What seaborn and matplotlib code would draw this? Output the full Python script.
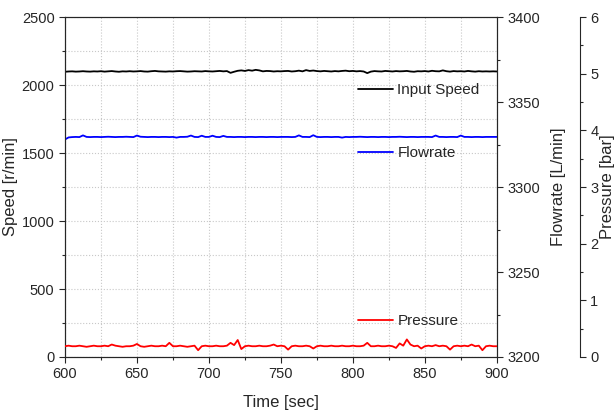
import numpy as np
import pandas as pd
import matplotlib
matplotlib.use("Agg")
import matplotlib.pyplot as plt
from matplotlib.ticker import MultipleLocator
import seaborn as sns

# time axis, one sample every 2.5 s from 600 to 900
time = np.arange(600, 900.1, 2.5)

speed = [
    2098, 2100, 2101, 2099, 2100, 2102, 2100, 2099, 2101, 2100,
    2102, 2099, 2101, 2103, 2100, 2098, 2101, 2100, 2102, 2100,
    2101, 2103, 2100, 2099, 2102, 2104, 2101, 2100, 2099, 2101,
    2100, 2102, 2103, 2101, 2099, 2100, 2102, 2101, 2100, 2103,
    2101, 2100, 2102, 2104, 2101, 2103, 2090, 2098, 2105, 2108,
    2104, 2110, 2106, 2112, 2108, 2101, 2104, 2103, 2100, 2102,
    2101, 2103, 2104, 2100, 2102, 2106, 2101, 2110, 2104, 2107,
    2103, 2101, 2104, 2102, 2100, 2103, 2101, 2104, 2106, 2102,
    2104, 2101, 2103, 2100, 2088, 2099, 2103, 2101, 2100, 2104,
    2102, 2100, 2103, 2101, 2102, 2104, 2100, 2098, 2102, 2101,
    2103, 2100, 2105, 2102, 2101, 2108, 2102, 2099, 2103, 2101,
    2102, 2100, 2104, 2101, 2099, 2102, 2100, 2101, 2100, 2101,
    2100]

flowrate = [
    3328.0, 3329.2, 3329.4, 3329.5, 3329.4, 3330.4, 3329.5, 3329.4, 3329.5, 3329.5,
    3329.4, 3329.5, 3329.6, 3329.5, 3329.4, 3329.5, 3329.5, 3329.6, 3329.5, 3329.4,
    3330.3, 3329.6, 3329.5, 3329.4, 3329.5, 3329.5, 3329.4, 3329.5, 3329.5, 3329.4,
    3329.5, 3329.1, 3329.5, 3329.5, 3329.6, 3330.3, 3329.5, 3329.4, 3330.2, 3329.5,
    3329.5, 3330.2, 3329.5, 3329.4, 3330.1, 3329.5, 3329.5, 3329.4, 3329.5, 3329.5,
    3329.4, 3329.5, 3329.5, 3329.4, 3329.5, 3329.5, 3329.4, 3329.5, 3329.5, 3329.4,
    3329.5, 3329.5, 3329.5, 3329.4, 3329.5, 3330.4, 3329.5, 3329.5, 3329.4, 3330.5,
    3329.5, 3329.4, 3329.5, 3329.5, 3329.4, 3329.5, 3329.5, 3329.1, 3329.5, 3329.4,
    3329.5, 3329.5, 3329.6, 3329.5, 3329.4, 3329.5, 3329.5, 3329.4, 3329.5, 3329.5,
    3329.4, 3329.5, 3329.5, 3329.6, 3329.5, 3329.4, 3329.5, 3329.5, 3329.4, 3329.5,
    3329.5, 3329.5, 3329.4, 3330.3, 3329.5, 3329.5, 3329.4, 3329.5, 3329.5, 3329.4,
    3330.3, 3329.5, 3329.5, 3329.4, 3329.5, 3329.5, 3329.4, 3329.5, 3329.5, 3329.5,
    3329.5]

pressure = [
    0.19, 0.20, 0.19, 0.19, 0.20, 0.19, 0.18, 0.19, 0.20, 0.19,
    0.19, 0.20, 0.19, 0.22, 0.20, 0.19, 0.18, 0.19, 0.19, 0.20,
    0.23, 0.19, 0.18, 0.19, 0.20, 0.19, 0.19, 0.20, 0.19, 0.25,
    0.19, 0.19, 0.20, 0.19, 0.18, 0.19, 0.20, 0.12, 0.19, 0.20,
    0.19, 0.19, 0.20, 0.19, 0.19, 0.20, 0.25, 0.21, 0.30, 0.14,
    0.19, 0.20, 0.19, 0.19, 0.20, 0.19, 0.19, 0.20, 0.22, 0.19,
    0.20, 0.19, 0.13, 0.19, 0.20, 0.19, 0.19, 0.20, 0.19, 0.15,
    0.19, 0.20, 0.19, 0.19, 0.20, 0.19, 0.19, 0.20, 0.19, 0.19,
    0.20, 0.19, 0.19, 0.20, 0.25, 0.19, 0.19, 0.20, 0.19, 0.19,
    0.20, 0.19, 0.16, 0.24, 0.20, 0.31, 0.22, 0.19, 0.20, 0.15,
    0.19, 0.20, 0.19, 0.21, 0.19, 0.20, 0.19, 0.13, 0.19, 0.20,
    0.19, 0.20, 0.19, 0.22, 0.19, 0.20, 0.12, 0.19, 0.20, 0.19,
    0.19]

df = pd.DataFrame({"Time": time, "Speed": speed,
                   "Flowrate": flowrate, "Pressure": pressure})

sns.set_style("ticks")
plt.rcParams['font.family'] = ['Liberation Sans', 'DejaVu Sans']
plt.rcParams['xtick.labelsize'] = 10.5
plt.rcParams['ytick.labelsize'] = 10.5

fig = plt.figure(figsize=(6.16, 4.12), dpi=100)
ax = fig.add_axes([0.1055, 0.1335, 0.701, 0.825])
ax2 = ax.twinx()
ax3 = ax.twinx()
ax3.spines['right'].set_position(('axes', 1.192))

sns.lineplot(data=df, x="Time", y="Speed", ax=ax, color="black", lw=1.3, label="Input Speed")
sns.lineplot(data=df, x="Time", y="Flowrate", ax=ax2, color="blue", lw=1.3, label="Flowrate")
sns.lineplot(data=df, x="Time", y="Pressure", ax=ax3, color="red", lw=1.3, label="Pressure")

ax.set_xlim(600, 900)
ax.set_ylim(0, 2500)
ax2.set_ylim(3200, 3400)
ax3.set_ylim(0, 6)

ax.xaxis.set_major_locator(MultipleLocator(50))
ax.xaxis.set_minor_locator(MultipleLocator(25))
ax.yaxis.set_major_locator(MultipleLocator(500))
ax.yaxis.set_minor_locator(MultipleLocator(250))
ax2.yaxis.set_major_locator(MultipleLocator(50))
ax2.yaxis.set_minor_locator(MultipleLocator(25))
ax3.yaxis.set_major_locator(MultipleLocator(1))
ax3.yaxis.set_minor_locator(MultipleLocator(0.5))

for a in (ax, ax2, ax3):
    a.tick_params(which='major', direction='out', length=4, width=0.8)
    a.tick_params(which='minor', direction='out', length=2.5, width=0.8)

ax.grid(True, which='both', color='#c8c8c8', linestyle=':', linewidth=0.8)
ax.set_axisbelow(True)

for s in ('top', 'right'):
    ax.spines[s].set_visible(True)
ax3.spines['top'].set_visible(False)
ax3.spines['left'].set_visible(False)
ax3.spines['bottom'].set_visible(False)
ax2.spines['top'].set_visible(True)

ax.set_xlabel("Time [sec]", fontsize=12, labelpad=10)
ax.set_ylabel("Speed [r/min]", fontsize=12, labelpad=3)
ax2.set_ylabel("Flowrate [L/min]", fontsize=12, labelpad=8)
ax3.set_ylabel("Pressure [bar]", fontsize=12, labelpad=1)

leg_kw = dict(loc='center left', frameon=False, fontsize=11, borderpad=0,
              borderaxespad=0, handlelength=2.3, handletextpad=0.3)
ax.legend(bbox_to_anchor=(0.678, 0.785), **leg_kw)
ax2.legend(bbox_to_anchor=(0.678, 0.60), **leg_kw)
ax3.legend(bbox_to_anchor=(0.678, 0.106), **leg_kw)

fig.savefig("out.png", dpi=100)
